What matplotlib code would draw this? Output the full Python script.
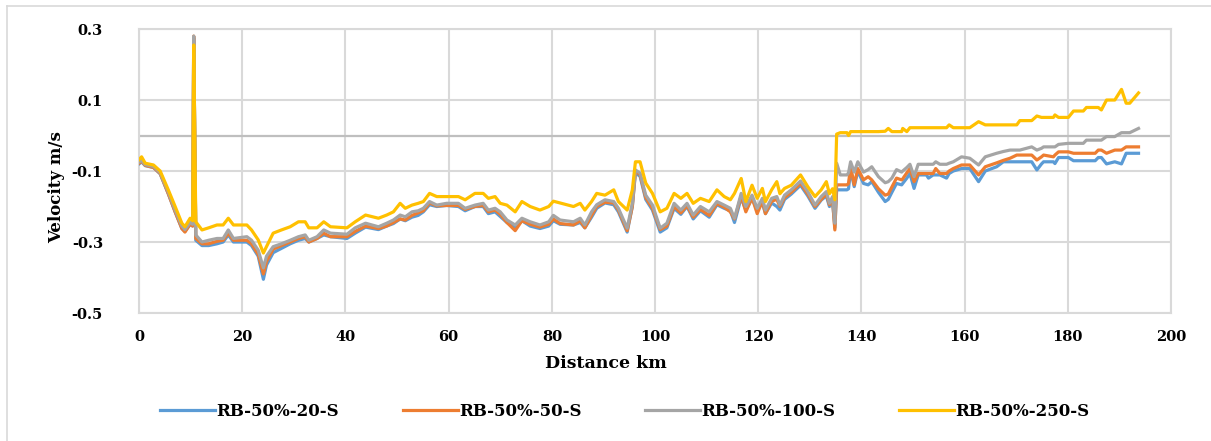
import matplotlib
matplotlib.use("Agg")
import matplotlib.pyplot as plt
from matplotlib.lines import Line2D

plt.rcParams['font.family'] = ['DejaVu Serif']
plt.rcParams['font.weight'] = 'bold'
plt.rcParams['axes.unicode_minus'] = False

# distance (km) of the sampled points, shared by all four runs
distance = [
    0.0, 0.5, 1.2, 2.8, 4.1, 5.7, 7.0, 8.3, 8.9, 9.9, 10.4, 10.6, 11.0, 12.2, 13.5,
    15.1, 16.3, 17.3, 18.3, 20.9, 21.8, 23.1, 24.1, 24.7, 26.0, 27.6, 29.3, 30.9,
    32.2, 32.9, 34.5, 35.8, 37.1, 40.3, 41.9, 43.9, 46.4, 48.0, 49.3, 50.6, 51.6,
    52.9, 54.1, 55.1, 56.3, 57.7, 59.6, 61.9, 63.2, 65.1, 66.7, 67.7, 69.0, 70.0,
    71.3, 72.9, 74.2, 75.8, 77.7, 79.4, 80.3, 81.6, 84.2, 85.5, 86.4, 87.7, 88.7,
    90.3, 92.0, 92.9, 94.6, 95.6, 96.2, 97.1, 98.2, 99.5, 101.0, 102.3, 103.7,
    105.0, 106.2, 107.4, 108.8, 110.5, 112.0, 113.4, 114.6, 115.4, 116.7, 117.6,
    118.8, 119.8, 120.8, 121.4, 122.6, 123.6, 124.2, 125.1, 126.4, 128.2, 129.6,
    131.0, 132.2, 133.2, 133.8, 134.4, 134.85, 135.2, 135.9, 137.2, 137.5, 137.9,
    138.6, 139.3, 140.4, 141.3, 142.0, 143.3, 144.6, 145.2, 145.9, 146.8, 147.8,
    148.0, 148.8, 149.4, 150.2, 151.0, 152.6, 153.0, 153.9, 154.4, 155.2, 156.5,
    157.0, 157.8, 159.4, 161.0, 162.7, 164.0, 166.2, 167.5, 168.8, 170.1, 170.7,
    173.0, 174.0, 174.9, 175.3, 177.2, 177.5, 178.2, 180.1, 181.1, 183.0, 183.6,
    185.3, 185.9, 186.5, 187.5, 189.1, 190.4, 191.3, 192.0, 193.7,
]

rb_20 = [
    -0.080, -0.074, -0.085, -0.090, -0.108, -0.165, -0.215, -0.262, -0.270, -0.250,
    -0.255, 0.275, -0.295, -0.310, -0.310, -0.305, -0.300, -0.280, -0.300, -0.300,
    -0.310, -0.340, -0.405, -0.365, -0.330, -0.318, -0.305, -0.295, -0.290, -0.300,
    -0.290, -0.280, -0.285, -0.290, -0.275, -0.258, -0.265, -0.255, -0.248, -0.235,
    -0.240, -0.230, -0.225, -0.215, -0.195, -0.200, -0.197, -0.200, -0.212, -0.200,
    -0.200, -0.220, -0.215, -0.228, -0.245, -0.260, -0.240, -0.255, -0.262, -0.255,
    -0.240, -0.250, -0.252, -0.245, -0.260, -0.230, -0.205, -0.190, -0.195, -0.215,
    -0.272, -0.200, -0.105, -0.115, -0.180, -0.210, -0.272, -0.260, -0.205, -0.222,
    -0.200, -0.235, -0.212, -0.230, -0.195, -0.205, -0.212, -0.245, -0.175, -0.210,
    -0.178, -0.210, -0.190, -0.220, -0.190, -0.200, -0.210, -0.180, -0.165, -0.140,
    -0.170, -0.205, -0.182, -0.170, -0.200, -0.185, -0.260, -0.153, -0.153, -0.153,
    -0.150, -0.096, -0.144, -0.100, -0.135, -0.139, -0.130, -0.160, -0.186, -0.180,
    -0.160, -0.135, -0.139, -0.135, -0.120, -0.107, -0.149, -0.111, -0.111, -0.120,
    -0.111, -0.111, -0.111, -0.120, -0.107, -0.100, -0.093, -0.093, -0.130, -0.100,
    -0.088, -0.074, -0.074, -0.074, -0.074, -0.074, -0.097, -0.080, -0.074, -0.074,
    -0.079, -0.062, -0.062, -0.071, -0.071, -0.071, -0.071, -0.062, -0.062, -0.080,
    -0.074, -0.080, -0.050, -0.050, -0.050,
]

rb_50 = [
    -0.078, -0.072, -0.084, -0.090, -0.107, -0.165, -0.215, -0.262, -0.272, -0.250,
    -0.255, 0.280, -0.290, -0.305, -0.305, -0.298, -0.295, -0.275, -0.295, -0.295,
    -0.305, -0.335, -0.390, -0.355, -0.320, -0.310, -0.300, -0.290, -0.285, -0.300,
    -0.290, -0.275, -0.285, -0.285, -0.270, -0.255, -0.262, -0.255, -0.245, -0.235,
    -0.238, -0.225, -0.218, -0.212, -0.190, -0.198, -0.197, -0.197, -0.208, -0.200,
    -0.197, -0.215, -0.210, -0.222, -0.245, -0.268, -0.240, -0.250, -0.258, -0.250,
    -0.235, -0.248, -0.252, -0.240, -0.260, -0.225, -0.200, -0.188, -0.190, -0.210,
    -0.268, -0.200, -0.100, -0.110, -0.175, -0.205, -0.265, -0.255, -0.200, -0.218,
    -0.198, -0.230, -0.208, -0.225, -0.192, -0.202, -0.215, -0.235, -0.170, -0.215,
    -0.175, -0.220, -0.185, -0.220, -0.185, -0.180, -0.200, -0.175, -0.160, -0.135,
    -0.165, -0.200, -0.180, -0.165, -0.195, -0.180, -0.266, -0.139, -0.139, -0.139,
    -0.135, -0.088, -0.139, -0.093, -0.125, -0.116, -0.125, -0.150, -0.168, -0.165,
    -0.145, -0.120, -0.125, -0.122, -0.105, -0.093, -0.130, -0.107, -0.107, -0.107,
    -0.107, -0.093, -0.107, -0.107, -0.100, -0.093, -0.083, -0.083, -0.111, -0.088,
    -0.077, -0.070, -0.064, -0.055, -0.055, -0.055, -0.069, -0.060, -0.055, -0.060,
    -0.055, -0.046, -0.046, -0.050, -0.050, -0.050, -0.050, -0.041, -0.041, -0.050,
    -0.041, -0.041, -0.032, -0.032, -0.032,
]

rb_100 = [
    -0.075, -0.070, -0.082, -0.087, -0.105, -0.160, -0.210, -0.255, -0.265, -0.245,
    -0.250, 0.280, -0.280, -0.300, -0.295, -0.290, -0.290, -0.266, -0.290, -0.285,
    -0.295, -0.323, -0.373, -0.340, -0.313, -0.305, -0.295, -0.285, -0.280, -0.295,
    -0.285, -0.266, -0.275, -0.278, -0.260, -0.247, -0.257, -0.247, -0.238, -0.224,
    -0.229, -0.215, -0.212, -0.205, -0.186, -0.196, -0.191, -0.191, -0.205, -0.196,
    -0.191, -0.210, -0.205, -0.215, -0.238, -0.252, -0.233, -0.243, -0.252, -0.243,
    -0.225, -0.238, -0.243, -0.233, -0.252, -0.215, -0.195, -0.181, -0.186, -0.205,
    -0.261, -0.191, -0.097, -0.106, -0.168, -0.196, -0.261, -0.247, -0.191, -0.210,
    -0.191, -0.224, -0.200, -0.215, -0.186, -0.196, -0.205, -0.233, -0.163, -0.200,
    -0.168, -0.205, -0.177, -0.210, -0.177, -0.172, -0.196, -0.168, -0.153, -0.128,
    -0.158, -0.196, -0.172, -0.158, -0.191, -0.172, -0.247, -0.078, -0.111, -0.111,
    -0.105, -0.074, -0.103, -0.074, -0.103, -0.096, -0.088, -0.116, -0.133, -0.130,
    -0.120, -0.096, -0.103, -0.100, -0.090, -0.081, -0.116, -0.081, -0.081, -0.081,
    -0.081, -0.074, -0.081, -0.081, -0.078, -0.074, -0.060, -0.064, -0.083, -0.060,
    -0.050, -0.045, -0.041, -0.041, -0.041, -0.032, -0.041, -0.036, -0.032, -0.032,
    -0.032, -0.025, -0.022, -0.022, -0.022, -0.013, -0.013, -0.013, -0.013, -0.003,
    -0.003, 0.008, 0.008, 0.008, 0.020,
]

rb_250 = [
    -0.068, -0.060, -0.078, -0.083, -0.100, -0.154, -0.200, -0.247, -0.257, -0.233,
    -0.240, 0.255, -0.243, -0.266, -0.260, -0.252, -0.252, -0.233, -0.252, -0.252,
    -0.266, -0.294, -0.331, -0.313, -0.275, -0.266, -0.257, -0.243, -0.243, -0.260,
    -0.260, -0.243, -0.257, -0.260, -0.243, -0.224, -0.233, -0.224, -0.215, -0.191,
    -0.205, -0.196, -0.191, -0.186, -0.163, -0.172, -0.172, -0.172, -0.181, -0.163,
    -0.163, -0.177, -0.172, -0.191, -0.196, -0.215, -0.186, -0.200, -0.210, -0.200,
    -0.185, -0.190, -0.200, -0.191, -0.210, -0.186, -0.163, -0.168, -0.153, -0.186,
    -0.210, -0.153, -0.074, -0.074, -0.134, -0.163, -0.215, -0.205, -0.163, -0.177,
    -0.163, -0.191, -0.177, -0.186, -0.153, -0.172, -0.181, -0.163, -0.121, -0.186,
    -0.140, -0.177, -0.149, -0.186, -0.153, -0.130, -0.164, -0.149, -0.140, -0.111,
    -0.144, -0.172, -0.153, -0.130, -0.164, -0.150, -0.181, 0.004, 0.008, 0.008,
    0.000, 0.011, 0.011, 0.011, 0.011, 0.011, 0.011, 0.011, 0.012, 0.020,
    0.011, 0.011, 0.011, 0.020, 0.011, 0.022, 0.022, 0.022, 0.022, 0.022,
    0.022, 0.022, 0.022, 0.022, 0.030, 0.022, 0.022, 0.022, 0.039, 0.030,
    0.030, 0.030, 0.030, 0.030, 0.042, 0.042, 0.055, 0.051, 0.051, 0.051,
    0.058, 0.051, 0.051, 0.069, 0.069, 0.079, 0.079, 0.079, 0.072, 0.100,
    0.100, 0.130, 0.091, 0.091, 0.120,
]

series_names = ['RB-50%-20-S', 'RB-50%-50-S', 'RB-50%-100-S', 'RB-50%-250-S']
series_colors = ['#5B9BD5', '#ED7D31', '#A5A5A5', '#FFC000']

x_ticks = [0, 20, 40, 60, 80, 100, 120, 140, 160, 180, 200]
y_ticks = [-0.5, -0.3, -0.1, 0.1, 0.3]

fig = plt.figure(figsize=(12.11, 4.41), dpi=100)
fig.set_facecolor('white')
ax = fig.add_axes([0.1148, 0.2902, 0.8522, 0.644])

grid_col = '#D9D9D9'
ax.set_axisbelow(True)
ax.grid(True, color=grid_col, linewidth=1.5)
ax.axhline(0, color='#BFBFBF', linewidth=1.6, zorder=1)

for vals, name, col in zip([rb_20, rb_50, rb_100, rb_250], series_names, series_colors):
    ax.plot(distance, vals, color=col, linewidth=2.3, label=name, zorder=3)

ax.set_xlim(0, 200)
ax.set_ylim(-0.5, 0.3)
ax.set_xticks(x_ticks)
ax.set_yticks(y_ticks)
ax.set_yticklabels(['%g' % v for v in y_ticks])
ax.tick_params(length=0, labelsize=10.5, colors='black')
ax.tick_params(axis='y', pad=26)
ax.tick_params(axis='x', pad=12)
for s in ax.spines.values():
    s.set_color(grid_col)
    s.set_linewidth(1.5)

fig.text(0.5, 0.175, 'Distance km', ha='center', va='center', fontsize=12.5, fontweight='bold')
fig.text(0.047, 0.576, 'Velocity m/s', ha='center', va='center', rotation=90,
         fontsize=12, fontweight='bold')

handles = [Line2D([], [], color=c, linewidth=2.3) for c in series_colors]
fig.legend(handles, series_names, loc='center', bbox_to_anchor=(0.516, 0.068), ncol=4,
           frameon=False, fontsize=12, handlelength=3.3, handletextpad=0.1,
           columnspacing=3.8)

# outer chart border (clipped on the right and bottom like the source)
fig.add_artist(Line2D([7 / 1211, 1], [1 - 6 / 441, 1 - 6 / 441], color=grid_col, linewidth=1.2))
fig.add_artist(Line2D([7 / 1211, 7 / 1211], [0, 1 - 6 / 441], color=grid_col, linewidth=1.2))

fig.savefig('out.png', dpi=100)
